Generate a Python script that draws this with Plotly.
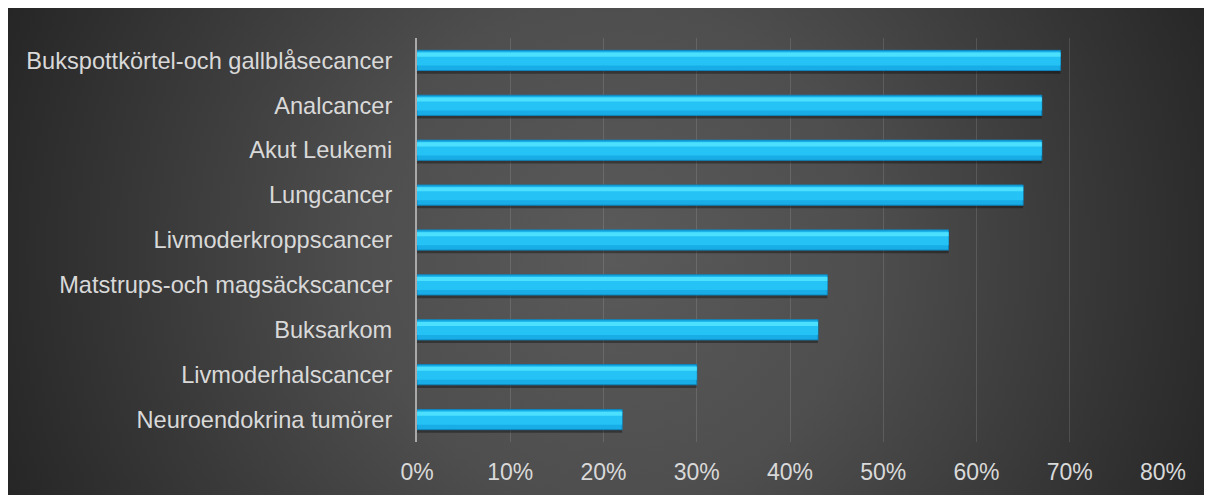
import base64
import plotly.graph_objects as go

categories = [
    "Bukspottkörtel-och gallblåsecancer",
    "Analcancer",
    "Akut Leukemi",
    "Lungcancer",
    "Livmoderkroppscancer",
    "Matstrups-och magsäckscancer",
    "Buksarkom",
    "Livmoderhalscancer",
    "Neuroendokrina tumörer",
]
values = [0.69, 0.67, 0.67, 0.65, 0.57, 0.44, 0.43, 0.30, 0.22]
tick_vals = [0, 0.1, 0.2, 0.3, 0.4, 0.5, 0.6, 0.7, 0.8]
tick_text = ["0%", "10%", "20%", "30%", "40%", "50%", "60%", "70%", "80%"]

W, H = 1230, 495
ML, MT, MB = 409, 30, 61
PW = 746
MR = W - ML - PW
PH = H - MT - MB

svg = f'''<svg xmlns="http://www.w3.org/2000/svg" width="{W}" height="{H}" viewBox="0 0 {W} {H}" preserveAspectRatio="none">
<defs><radialGradient id="g" gradientUnits="userSpaceOnUse" cx="605" cy="245" r="720">
<stop offset="0" stop-color="#5a5a5a"/>
<stop offset="0.35" stop-color="#4e4e4e"/>
<stop offset="1" stop-color="#1f1f1f"/>
</radialGradient></defs>
<rect x="0" y="0" width="{W}" height="{H}" fill="url(#g)"/>
</svg>'''
src = "data:image/svg+xml;base64," + base64.b64encode(svg.encode()).decode()

fig = go.Figure()
BW = 0.45
# shadow
fig.add_trace(go.Bar(y=categories, x=values, orientation="h", width=0.1, offset=BW / 2 - 0.03,
                     marker=dict(color="rgba(0,0,0,0.35)", line=dict(width=0)), hoverinfo="skip"))
# base bar
fig.add_trace(go.Bar(y=categories, x=values, orientation="h", width=BW, offset=-BW / 2,
                     marker=dict(color="#18ade6", line=dict(color="#0e86bd", width=1)), hoverinfo="skip"))
# middle body
fig.add_trace(go.Bar(y=categories, x=values, orientation="h", width=0.3, offset=-BW / 2 + 0.04,
                     marker=dict(color="#25c2f5", line=dict(width=0)), hoverinfo="skip"))
# highlight
fig.add_trace(go.Bar(y=categories, x=values, orientation="h", width=0.09, offset=-BW / 2 + 0.05,
                     marker=dict(color="#4cdffe", line=dict(width=0)), hoverinfo="skip"))

fig.update_layout(
    width=W, height=H,
    margin=dict(l=ML, r=MR, t=MT, b=MB, pad=0),
    paper_bgcolor="#2a2a2a",
    plot_bgcolor="rgba(0,0,0,0)",
    barmode="overlay",
    showlegend=False,
    font=dict(family="Liberation Sans, Arial, sans-serif", size=23.6, color="#d9d9d9"),
    images=[dict(source=src, xref="paper", yref="paper",
                 x=-ML / PW, y=1 + MT / PH,
                 sizex=W / PW, sizey=H / PH,
                 xanchor="left", yanchor="top", sizing="stretch", layer="below")],
    xaxis=dict(range=[0, 0.8], tickvals=tick_vals, ticktext=tick_text,
               showgrid=True, gridcolor="rgba(255,255,255,0.12)", gridwidth=1,
               zeroline=False, showline=False,
               ticks="outside", ticklen=9, tickcolor="rgba(0,0,0,0)",
               tickfont=dict(size=23, color="#d9d9d9"), fixedrange=True),
    yaxis=dict(categoryorder="array", categoryarray=categories, autorange="reversed",
               showgrid=False, zeroline=False,
               showline=True, linecolor="#a9a9a9", linewidth=2,
               ticks="outside", ticklen=18, tickcolor="rgba(0,0,0,0)",
               tickfont=dict(size=23.6, color="#d9d9d9"), fixedrange=True),
)

fig.write_html("out.html", post_script="document.body.style.overflow='hidden';")
